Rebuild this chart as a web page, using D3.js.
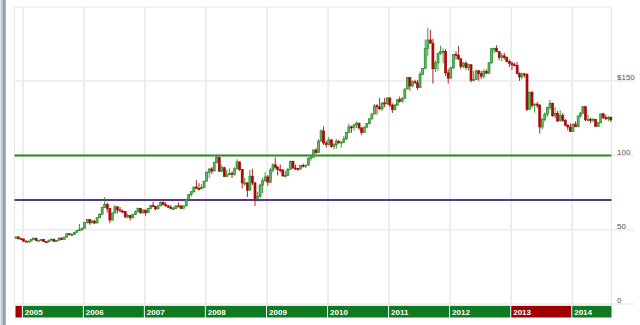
<!DOCTYPE html>
<html>
<head>
<meta charset="utf-8">
<script src="https://cdn.jsdelivr.net/npm/d3@7"></script>
<style>
  html, body { margin: 0; padding: 0; background: #fff; overflow: hidden; }
  svg { display: block; }
</style>
</head>
<body>
<svg id="chart" width="640" height="325"></svg>
<script>
// Half-month price candles (period start dates)
const periodStart = [
  "2004-11-18","2004-12-01","2004-12-16",
  "2005-01-01","2005-01-16","2005-02-01","2005-02-16","2005-03-01","2005-03-16","2005-04-01","2005-04-16","2005-05-01","2005-05-16","2005-06-01","2005-06-16","2005-07-01","2005-07-16","2005-08-01","2005-08-16","2005-09-01","2005-09-16","2005-10-01","2005-10-16","2005-11-01","2005-11-16","2005-12-01","2005-12-16",
  "2006-01-01","2006-01-16","2006-02-01","2006-02-16","2006-03-01","2006-03-16","2006-04-01","2006-04-16","2006-05-01","2006-05-16","2006-06-01","2006-06-16","2006-07-01","2006-07-16","2006-08-01","2006-08-16","2006-09-01","2006-09-16","2006-10-01","2006-10-16","2006-11-01","2006-11-16","2006-12-01","2006-12-16",
  "2007-01-01","2007-01-16","2007-02-01","2007-02-16","2007-03-01","2007-03-16","2007-04-01","2007-04-16","2007-05-01","2007-05-16","2007-06-01","2007-06-16","2007-07-01","2007-07-16","2007-08-01","2007-08-16","2007-09-01","2007-09-16","2007-10-01","2007-10-16","2007-11-01","2007-11-16","2007-12-01","2007-12-16",
  "2008-01-01","2008-01-16","2008-02-01","2008-02-16","2008-03-01","2008-03-16","2008-04-01","2008-04-16","2008-05-01","2008-05-16","2008-06-01","2008-06-16","2008-07-01","2008-07-16","2008-08-01","2008-08-16","2008-09-01","2008-09-16","2008-10-01","2008-10-16","2008-11-01","2008-11-16","2008-12-01","2008-12-16",
  "2009-01-01","2009-01-16","2009-02-01","2009-02-16","2009-03-01","2009-03-16","2009-04-01","2009-04-16","2009-05-01","2009-05-16","2009-06-01","2009-06-16","2009-07-01","2009-07-16","2009-08-01","2009-08-16","2009-09-01","2009-09-16","2009-10-01","2009-10-16","2009-11-01","2009-11-16","2009-12-01","2009-12-16",
  "2010-01-01","2010-01-16","2010-02-01","2010-02-16","2010-03-01","2010-03-16","2010-04-01","2010-04-16","2010-05-01","2010-05-16","2010-06-01","2010-06-16","2010-07-01","2010-07-16","2010-08-01","2010-08-16","2010-09-01","2010-09-16","2010-10-01","2010-10-16","2010-11-01","2010-11-16","2010-12-01","2010-12-16",
  "2011-01-01","2011-01-16","2011-02-01","2011-02-16","2011-03-01","2011-03-16","2011-04-01","2011-04-16","2011-05-01","2011-05-16","2011-06-01","2011-06-16","2011-07-01","2011-07-16","2011-08-01","2011-08-16","2011-09-01","2011-09-16","2011-10-01","2011-10-16","2011-11-01","2011-11-16","2011-12-01","2011-12-16",
  "2012-01-01","2012-01-16","2012-02-01","2012-02-16","2012-03-01","2012-03-16","2012-04-01","2012-04-16","2012-05-01","2012-05-16","2012-06-01","2012-06-16","2012-07-01","2012-07-16","2012-08-01","2012-08-16","2012-09-01","2012-09-16","2012-10-01","2012-10-16","2012-11-01","2012-11-16","2012-12-01","2012-12-16",
  "2013-01-01","2013-01-16","2013-02-01","2013-02-16","2013-03-01","2013-03-16","2013-04-01","2013-04-16","2013-05-01","2013-05-16","2013-06-01","2013-06-16","2013-07-01","2013-07-16","2013-08-01","2013-08-16","2013-09-01","2013-09-16","2013-10-01","2013-10-16","2013-11-01","2013-11-16","2013-12-01","2013-12-16",
  "2014-01-01","2014-01-16","2014-02-01","2014-02-16","2014-03-01","2014-03-16","2014-04-01","2014-04-16","2014-05-01","2014-05-16","2014-06-01","2014-06-16","2014-07-01","2014-07-16","2014-08-01","2014-08-16"
];
const lastDay = "2014-08-29";

const open = [
  44.38,45.12,44.00,
  43.8,42.3,42.2,42.3,43.5,44.3,42.8,42.9,43.5,41.9,41.8,43.0,43.6,42.2,42.9,44.4,43.4,45.0,47.3,46.9,46.9,48.3,49.5,50.0,
  51.0,54.8,56.8,54.6,55.8,54.5,58.0,60.3,65.0,67.0,64.3,56.5,61.2,65.4,63.3,62.5,62.3,58.6,59.6,58.0,60.3,62.0,64.3,61.3,
  63.2,61.4,64.3,66.3,65.7,64.0,66.1,68.4,66.8,66.0,65.2,64.2,64.3,66.0,65.9,64.4,66.0,70.5,73.6,75.6,78.7,77.8,77.5,78.5,
  82.7,88.5,90.9,89.5,95.2,98.5,89.4,91.7,85.8,87.0,87.8,87.3,91.0,95.6,90.5,81.5,81.5,76.6,86.0,81.5,71.0,72.5,80.0,83.0,
  85.5,82.0,90.1,93.6,92.1,90.5,90.2,86.3,86.6,90.6,96.0,91.5,91.2,90.8,93.3,92.9,93.5,98.2,98.8,103.6,102.0,109.7,116.5,108.3,
  107.3,110.4,105.9,107.2,109.4,108.8,108.9,111.1,115.4,119.2,118.9,120.6,121.7,118.5,115.5,119.0,121.4,124.6,127.9,133.4,132.6,131.4,135.3,134.8,
  138.7,133.9,130.8,133.9,137.5,136.5,138.5,144.7,152.4,146.8,149.6,148.8,145.6,154.5,158.6,172.0,177.7,175.5,158.3,162.3,168.5,170.0,170.0,155.6,
  152.0,159.0,168.0,167.4,165.0,159.8,162.1,159.1,161.0,150.6,151.0,156.9,155.2,153.3,156.4,155.3,162.3,171.8,171.9,169.9,166.0,167.0,166.0,163.2,
  162.0,161.0,160.6,155.0,152.8,154.8,154.5,131.0,142.4,133.7,134.5,133.7,119.1,124.2,127.7,132.4,135.0,126.7,128.2,123.2,127.0,123.5,120.3,119.1,
  116.1,121.0,119.3,126.5,128.4,132.8,124.0,124.2,123.8,124.3,119.5,122.0,128.0,125.4,124.7,125.6
];
const high = [
  45.40,45.60,44.40,
  43.8,42.9,42.7,43.7,44.6,44.4,43.2,43.6,43.6,42.2,43.2,44.2,43.8,43.0,44.6,44.5,45.2,47.5,47.6,47.5,48.5,49.8,53.8,51.5,
  55.2,57.0,57.3,56.6,56.3,58.3,61.2,65.5,72.0,68.3,64.5,61.6,66.5,65.6,65.3,63.5,62.5,60.7,59.8,60.6,63.0,64.9,64.6,63.6,
  63.3,64.6,66.5,68.7,65.9,66.3,69.0,69.1,68.5,66.6,66.5,65.5,66.4,68.3,66.9,66.3,70.8,73.7,75.8,78.8,83.3,81.3,80.6,82.8,
  89.3,91.3,92.1,95.7,100.4,99.2,93.7,92.4,90.3,91.3,89.3,92.0,97.5,96.0,90.8,84.8,81.8,90.3,91.0,82.0,75.5,81.0,85.0,88.7,
  86.8,91.5,94.8,98.6,92.8,93.8,90.5,89.5,91.5,96.5,96.5,93.8,91.6,93.5,94.5,93.5,98.5,99.9,104.0,104.8,110.8,117.5,119.5,109.8,
  112.4,111.0,108.3,111.0,110.5,109.5,113.2,115.4,121.3,120.0,121.0,122.9,122.0,118.9,119.4,121.5,124.9,128.2,134.6,134.5,138.8,135.8,138.6,138.8,
  138.9,135.0,134.5,137.8,139.6,139.0,144.9,152.4,152.9,150.5,150.9,150.8,156.5,158.8,178.0,185.9,184.5,178.5,163.8,169.4,173.8,172.0,171.5,158.0,
  159.4,168.3,170.0,173.6,165.5,162.8,163.3,161.8,161.4,156.7,157.8,157.5,156.9,158.0,157.9,163.0,172.0,172.6,174.1,170.0,168.8,169.0,166.5,164.5,
  163.3,162.5,162.8,155.8,155.8,155.6,155.4,143.0,143.5,135.0,136.0,134.6,125.4,129.0,132.7,137.4,135.6,132.5,129.9,130.4,128.5,124.5,120.9,121.5,
  121.5,122.8,127.0,129.1,133.3,133.0,127.5,125.4,125.1,124.5,122.6,127.5,128.6,127.5,126.6,126.3
];
const low = [
  44.10,43.40,43.30,
  41.9,41.8,41.6,42.2,43.3,42.4,42.2,42.6,41.9,41.4,41.6,42.9,41.9,41.7,42.8,43.1,43.3,44.8,46.3,45.9,46.6,48.0,49.3,49.2,
  50.8,54.1,53.3,54.3,53.8,54.4,57.8,59.8,64.8,61.5,54.4,56.2,61.0,61.0,62.5,61.2,57.8,57.6,56.3,57.8,60.0,61.8,61.0,60.8,
  59.4,61.2,64.0,65.3,63.0,63.8,65.8,66.6,65.6,64.6,63.8,63.6,64.1,65.4,64.0,64.2,65.8,70.2,72.3,74.8,77.5,76.4,77.3,78.2,
  82.5,84.8,87.5,89.2,94.6,88.8,88.5,85.5,85.3,86.6,84.8,86.5,90.6,89.5,77.8,79.3,72.0,76.3,80.0,66.0,69.0,71.5,74.5,82.2,
  79.5,81.3,88.5,91.0,86.5,88.5,85.5,85.2,86.0,90.3,91.0,90.2,89.5,90.5,91.8,91.5,93.2,96.5,98.5,101.0,101.8,109.3,107.0,105.3,
  106.6,105.2,104.0,104.5,107.8,105.2,108.3,110.5,115.2,115.2,116.6,118.5,117.2,113.8,115.2,118.2,120.8,124.2,127.5,127.5,130.5,129.8,132.4,133.8,
  132.5,128.5,130.2,133.5,135.5,135.5,138.2,144.5,143.5,145.9,148.2,144.1,145.4,154.0,158.2,166.6,176.0,148.3,156.0,157.0,167.5,162.0,153.3,148.3,
  151.8,158.2,164.5,164.2,158.2,158.8,157.6,157.2,149.1,150.0,150.8,150.2,151.5,151.8,155.0,155.0,161.8,168.8,169.5,164.0,163.5,164.5,162.5,159.5,
  157.5,160.0,154.7,150.2,151.2,152.3,129.9,131.0,132.0,128.8,131.8,114.7,117.4,122.8,126.1,130.5,126.0,124.8,122.5,122.9,122.6,119.6,116.8,115.8,
  115.9,119.3,119.0,125.4,128.0,123.0,123.3,121.7,122.5,119.2,119.3,121.7,124.5,123.8,123.0,122.6
];
const close = [
  45.12,44.00,43.80,
  42.3,42.2,42.3,43.5,44.3,42.8,42.9,43.5,41.9,41.8,43.0,43.6,42.2,42.9,44.4,43.4,45.0,47.3,46.9,46.9,48.3,49.5,50.0,51.0,
  54.8,56.8,54.6,55.8,54.5,58.0,60.3,65.0,67.0,64.3,56.5,61.2,65.4,63.3,62.5,62.3,58.6,59.6,58.0,60.3,62.0,64.3,61.3,63.2,
  61.4,64.3,66.3,65.7,64.0,66.1,68.4,66.8,66.0,65.2,64.2,64.3,66.0,65.9,64.4,66.0,70.5,73.6,75.6,78.7,77.8,77.5,78.5,82.7,
  88.5,90.9,89.5,95.2,98.5,89.4,91.7,85.8,87.0,87.8,87.3,91.0,95.6,90.5,81.5,81.5,76.6,86.0,81.5,71.0,72.5,80.0,83.0,85.5,
  82.0,90.1,93.6,92.1,90.5,90.2,86.3,86.6,90.6,96.0,91.5,91.2,90.8,93.3,92.9,93.5,98.2,98.8,103.6,102.0,109.7,116.5,108.3,107.3,
  110.4,105.9,107.2,109.4,108.8,108.9,111.1,115.4,119.2,118.9,120.6,121.7,118.5,115.5,119.0,121.4,124.6,127.9,133.4,132.6,131.4,135.3,134.8,138.7,
  133.9,130.8,133.9,137.5,136.5,138.5,144.7,152.4,146.8,149.6,148.8,145.6,154.5,158.6,172.0,177.7,175.5,158.3,162.3,168.5,170.0,170.0,155.6,152.0,
  159.0,168.0,167.4,165.0,159.8,162.1,159.1,161.0,150.6,151.0,156.9,155.2,153.3,156.4,155.3,162.3,171.8,171.9,169.9,166.0,167.0,166.0,163.2,162.0,
  161.0,160.6,155.0,152.8,154.8,154.5,131.0,142.4,133.7,134.5,133.7,119.1,124.2,127.7,132.4,135.0,126.7,128.2,123.2,127.0,123.5,120.3,119.1,116.1,
  121.0,119.3,126.5,128.4,132.8,124.0,124.2,123.8,124.3,119.5,122.0,128.0,125.4,124.7,125.6,123.9
];

// Price axis ticks and horizontal reference levels
const yTicks = [0, 50, 100, 150];
const yTickLabels = ["0", "50", "100", "$150"];
const levels = [100, 70];
const levelColors = ["#2b8a1c", "#5a3588"];

// Year strip labels
const yearLabels = ["2005","2006","2007","2008","2009","2010","2011","2012","2013","2014"];

const FONT = "'Liberation Sans', Arial, Helvetica, sans-serif";
const plot = { left: 14.5, right: 611.5, top: 7, bottom: 305.5 };

const svg = d3.select("#chart");
svg.append("rect").attr("width", 640).attr("height", 325).attr("fill", "#fff");

// Window edge on the left
const edge = [["#e3e8ef", 0, 1], ["#bcc7d8", 1, 2], ["#8e9bb2", 3, 2], ["#b4bbc7", 5, 1]];
svg.selectAll("rect.edge").data(edge).join("rect").attr("class", "edge")
  .attr("x", d => d[1]).attr("y", 0).attr("width", d => d[2]).attr("height", 325).attr("fill", d => d[0]);

const parseDate = d3.utcParse("%Y-%m-%d");
const starts = periodStart.map(parseDate);
const endDate = d3.utcDay.offset(parseDate(lastDay), 1);

const x = d3.scaleUtc().domain([starts[0], endDate]).range([15, 612]);
const y = d3.scaleLinear().domain([0, 200]).range([304, 6.8]);

// Frame
svg.append("rect")
  .attr("x", plot.left).attr("y", plot.top)
  .attr("width", plot.right - plot.left).attr("height", plot.bottom - plot.top)
  .attr("fill", "none").attr("stroke", "#e6e6e6").attr("stroke-width", 1);

// Vertical year gridlines
const xGrid = d3.axisBottom(x).ticks(d3.utcYear.every(1))
  .tickSize(-(plot.bottom - plot.top)).tickFormat("");
svg.append("g").attr("transform", `translate(0,${plot.bottom})`).call(xGrid)
  .call(g => g.select(".domain").remove())
  .selectAll("line").attr("stroke", "#e8e8e8").attr("stroke-width", 1.5);

// Horizontal price gridlines
svg.append("g").selectAll("line").data(yTicks).join("line")
  .attr("x1", plot.left).attr("x2", 634)
  .attr("y1", d => y(d)).attr("y2", d => y(d))
  .attr("stroke", "#ebebeb").attr("stroke-width", 1.5);

// Price labels on the right
const yAxis = d3.axisRight(y).tickValues(yTicks).tickSize(0).tickPadding(0)
  .tickFormat((d, i) => yTickLabels[i]);
svg.append("g").attr("transform", "translate(617,0)").call(yAxis)
  .call(g => g.select(".domain").remove())
  .selectAll("text")
  .attr("dy", -1.2)
  .attr("fill", "#555")
  .style("font-family", FONT).style("font-size", "8px");

// Reference levels
svg.append("g").selectAll("line").data(levels).join("line")
  .attr("x1", plot.left).attr("x2", plot.right)
  .attr("y1", d => y(d)).attr("y2", d => y(d))
  .attr("stroke", (d, i) => levelColors[i]).attr("stroke-width", 2);

// Candles
const candles = starts.map((d, i) => {
  const next = i + 1 < starts.length ? starts[i + 1] : endDate;
  return { d, o: open[i], h: high[i], l: low[i], c: close[i], cx: (x(d) + x(next)) / 2 };
});
const upStroke = "#238a23", upFill = "#62b462", downColor = "#a80a0a";
const cg = svg.append("g");
cg.selectAll("line").data(candles).join("line")
  .attr("x1", d => d.cx).attr("x2", d => d.cx)
  .attr("y1", d => y(d.h)).attr("y2", d => y(d.l))
  .attr("stroke", d => d.c >= d.o ? upStroke : downColor)
  .attr("stroke-width", 0.9);
const bw = 2;
cg.selectAll("rect").data(candles).join("rect")
  .attr("x", d => d.cx - bw / 2)
  .attr("y", d => y(Math.max(d.o, d.c)))
  .attr("width", bw)
  .attr("height", d => Math.max(1, Math.abs(y(d.o) - y(d.c))))
  .attr("fill", d => d.c >= d.o ? upFill : downColor)
  .attr("stroke", d => d.c >= d.o ? upStroke : downColor)
  .attr("stroke-width", 0.7);

// Year strip along the bottom
const firstYear = starts[0].getUTCFullYear();
const lastYear = starts[starts.length - 1].getUTCFullYear();
const yearsData = d3.range(firstYear, lastYear + 1).map(yr => {
  const s = new Date(Date.UTC(yr, 0, 1)), e = new Date(Date.UTC(yr + 1, 0, 1));
  const members = candles.filter(c => c.d.getUTCFullYear() === yr);
  return {
    yr,
    x0: x(s < starts[0] ? starts[0] : s),
    x1: x(e > endDate ? endDate : e),
    up: members[members.length - 1].c >= members[0].o
  };
});
const strip = svg.append("g");
strip.selectAll("rect").data(yearsData).join("rect")
  .attr("x", d => d.x0 + 0.5).attr("y", 306)
  .attr("width", d => d.x1 - d.x0 - 1).attr("height", 11.5)
  .attr("fill", d => d.up ? "#0f7a1f" : "#a10000");
strip.selectAll("text").data(yearsData.filter(d => yearLabels.includes(String(d.yr)))).join("text")
  .attr("x", d => d.x0 + 2.5).attr("y", 315)
  .attr("fill", "#fff")
  .style("font-family", FONT).style("font-size", "8px").style("font-weight", "bold")
  .text(d => yearLabels[yearLabels.indexOf(String(d.yr))]);
</script>
</body>
</html>
